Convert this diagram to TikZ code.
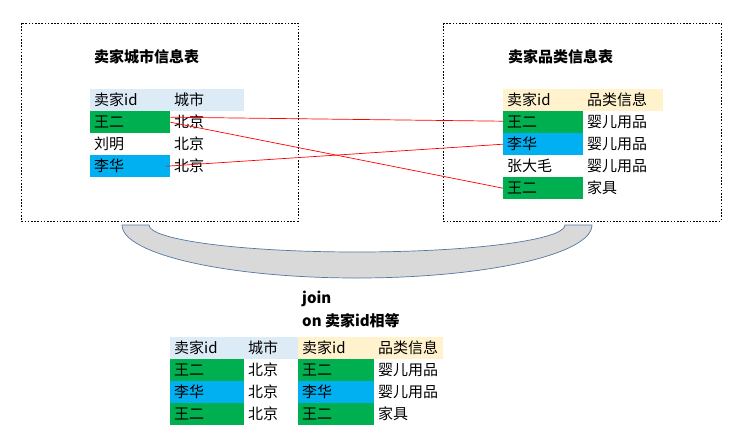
\documentclass[tikz,border=0pt]{standalone}
\usepackage{fontspec}
\setmainfont{Noto Sans CJK SC}
\usetikzlibrary{positioning}

\definecolor{idgreen}{RGB}{0,176,80}
\definecolor{idblue}{RGB}{0,176,240}
\definecolor{headblue}{RGB}{221,235,247}
\definecolor{headyellow}{RGB}{255,242,204}
\definecolor{bandgray}{RGB}{217,217,217}
\definecolor{bandedge}{RGB}{84,120,160}

\tikzset{
    cell/.style={anchor=north west, minimum height=22pt, inner xsep=4pt, inner ysep=0pt},
    hb/.style={cell, fill=headblue},
    hy/.style={cell, fill=headyellow},
    gr/.style={cell, fill=idgreen},
    bl/.style={cell, fill=idblue},
    wh/.style={cell},
    title/.style={anchor=west, inner sep=0pt, font=\fontsize{15}{18}\selectfont\bfseries},
    framebox/.style={line width=0.8pt, dash pattern=on 1.6pt off 1.6pt},
    link/.style={red, line width=0.7pt}
}

\begin{document}
\begin{tikzpicture}[x=1pt, y=-1pt, font=\fontsize{15}{18}\selectfont]

            \useasboundingbox (0,0) rectangle (753,445);

            % \draw [help lines] (0,0) grid (753,445);

            \draw[framebox] (21,23) rectangle (298,221);
            \draw[framebox] (443,23) rectangle (721,221);

            \path   (94,57)   node (ltitle) [title] {卖家城市信息表}
                    (508,57)  node (rtitle) [title] {卖家品类信息表};

            % left table
            \path   (90,89)   node (lh1) [hb, text width=72pt] {卖家id}
                    (170,89)  node (lh2) [hb, text width=66pt] {城市}
                    (90,111)  node (l1)  [gr, text width=72pt] {王二}
                    (170,111) node (l1c) [wh, text width=66pt] {北京}
                    (90,133)  node (l2)  [wh, text width=72pt] {刘明}
                    (170,133) node (l2c) [wh, text width=66pt] {北京}
                    (90,155)  node (l3)  [bl, text width=72pt] {李华}
                    (170,155) node (l3c) [wh, text width=66pt] {北京};

            % right table
            \path   (503,89)  node (rh1) [hy, text width=72pt] {卖家id}
                    (583,89)  node (rh2) [hy, text width=72pt] {品类信息}
                    (503,111) node (r1)  [gr, text width=72pt] {王二}
                    (583,111) node (r1c) [wh, text width=72pt] {婴儿用品}
                    (503,133) node (r2)  [bl, text width=72pt] {李华}
                    (583,133) node (r2c) [wh, text width=72pt] {婴儿用品}
                    (503,155) node (r3)  [wh, text width=72pt] {张大毛}
                    (583,155) node (r3c) [wh, text width=72pt] {婴儿用品}
                    (503,177) node (r4)  [gr, text width=72pt] {王二}
                    (583,177) node (r4c) [wh, text width=72pt] {家具};

            \draw[link] ([yshift=5pt]l1.east) -- ([yshift=1pt]r1.west);
            \draw[link] (l1.east) -- (r4.west);
            \draw[link] ([xshift=-4pt]l3.east) -- (r2.west);

            % join band
            \draw[bandedge, fill=bandgray, line width=0.7pt]
                    (122,225) -- (149,225)
                    .. controls (149,240) and (242,252) .. (357,252)
                    .. controls (472,252) and (565,240) .. (565,225)
                    -- (592,225)
                    .. controls (592,254) and (487,278) .. (357,278)
                    .. controls (227,278) and (122,254) .. cycle;

            \path   (302,299) node (jtext)  [title] {join}
                    (302,321) node (ontext) [title] {on 卖家id相等};

            % joined table
            \path   (170,337) node (jh1) [hb, text width=66pt] {卖家id}
                    (244,337) node (jh2) [hb, text width=46pt] {城市}
                    (298,337) node (jh3) [hy, text width=68pt] {卖家id}
                    (374,337) node (jh4) [hy, text width=61pt] {品类信息}
                    (170,359) node (j1)  [gr, text width=66pt] {王二}
                    (244,359) node (j1c) [wh, text width=46pt] {北京}
                    (298,359) node (j1d) [gr, text width=68pt] {王二}
                    (374,359) node (j1e) [wh, text width=61pt] {婴儿用品}
                    (170,381) node (j2)  [bl, text width=66pt] {李华}
                    (244,381) node (j2c) [wh, text width=46pt] {北京}
                    (298,381) node (j2d) [bl, text width=68pt] {李华}
                    (374,381) node (j2e) [wh, text width=61pt] {婴儿用品}
                    (170,403) node (j3)  [gr, text width=66pt] {王二}
                    (244,403) node (j3c) [wh, text width=46pt] {北京}
                    (298,403) node (j3d) [gr, text width=68pt] {王二}
                    (374,403) node (j3e) [wh, text width=61pt] {家具};

\end{tikzpicture}
\end{document}
